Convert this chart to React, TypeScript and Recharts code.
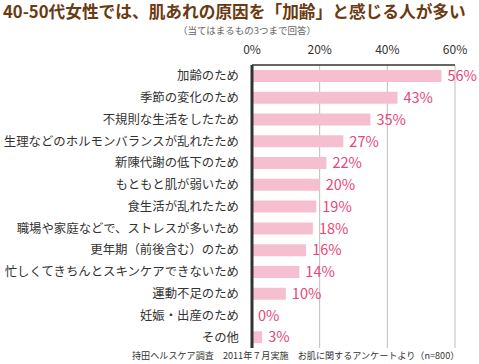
import React from 'react';
import { BarChart, Bar, XAxis, YAxis, CartesianGrid, LabelList } from 'recharts';

const reasons = [
  '加齢のため',
  '季節の変化のため',
  '不規則な生活をしたため',
  '生理などのホルモンバランスが乱れたため',
  '新陳代謝の低下のため',
  'もともと肌が弱いため',
  '食生活が乱れたため',
  '職場や家庭などで、ストレスが多いため',
  '更年期（前後含む）のため',
  '忙しくてきちんとスキンケアできないため',
  '運動不足のため',
  '妊娠・出産のため',
  'その他',
];
const percents = [56, 43, 35, 27, 22, 20, 19, 18, 16, 14, 10, 0, 3];
const xTicks = [0, 20, 40, 60];

const data = reasons.map((name, i) => ({ name, value: percents[i] }));

const font = '"Noto Sans CJK JP", "Noto Sans", sans-serif';

// label drawn by hand so that the 0% bar still gets its text
const ValueLabel = (props: any) => {
  const { x, y, width, height, value } = props;
  return (
    <text
      x={Number(x) + Number(width || 0) + 6}
      y={Number(y) + Number(height) / 2}
      dy="0.36em"
      fill="#e8457a"
      fontSize={14.5}
      fontFamily={font}
      textAnchor="start"
    >
      {`${value}%`}
    </text>
  );
};

export default function App() {
  return (
    <div style={{ position: 'absolute', left: 0, top: 0, width: 479, height: 364, fontFamily: font, background: '#fff' }}>
      <div style={{ position: 'absolute', left: 3, top: 2, fontSize: 16.7, fontWeight: 700, color: '#6b3a12', whiteSpace: 'nowrap', lineHeight: '18px' }}>
        40-50代女性では、肌あれの原因を「加齢」と感じる人が多い
      </div>
      <div style={{ position: 'absolute', left: 178, top: 24.5, fontSize: 9.5, color: '#666', whiteSpace: 'nowrap', lineHeight: '11px' }}>
        （当てはまるもの3つまで回答）
      </div>
      <BarChart
        width={479}
        height={364}
        layout="vertical"
        data={data}
        margin={{ top: 40, right: 24, bottom: 16, left: 0 }}
        barCategoryGap={5}
      >
        <CartesianGrid horizontal={false} stroke="#bdbdbd" strokeWidth={1} />
        <XAxis
          type="number"
          orientation="top"
          domain={[0, 60]}
          ticks={xTicks}
          height={25}
          tickLine={false}
          tickSize={6}
          tickMargin={5}
          axisLine={{ stroke: '#333', strokeWidth: 1.5 }}
          tick={{ fill: '#333', fontSize: 12, fontFamily: font }}
          tickFormatter={(v: number) => `${v}%`}
        />
        <YAxis
          type="category"
          dataKey="name"
          width={252}
          tickLine={false}
          tickSize={0}
          tickMargin={13}
          interval={0}
          axisLine={{ stroke: '#333', strokeWidth: 3 }}
          tick={{ fill: '#333', fontSize: 12.4, fontFamily: font }}
        />
        <Bar dataKey="value" fill="#f6bfd0" barSize={12} minPointSize={0.01} isAnimationActive={false}>
          <LabelList dataKey="value" content={ValueLabel} />
        </Bar>
      </BarChart>
      <div style={{ position: 'absolute', left: 132, top: 349, fontSize: 9.1, color: '#333', whiteSpace: 'nowrap', lineHeight: '12px' }}>
        持田ヘルスケア調査　2011年７月実施　お肌に関するアンケートより（n=800）
      </div>
    </div>
  );
}
